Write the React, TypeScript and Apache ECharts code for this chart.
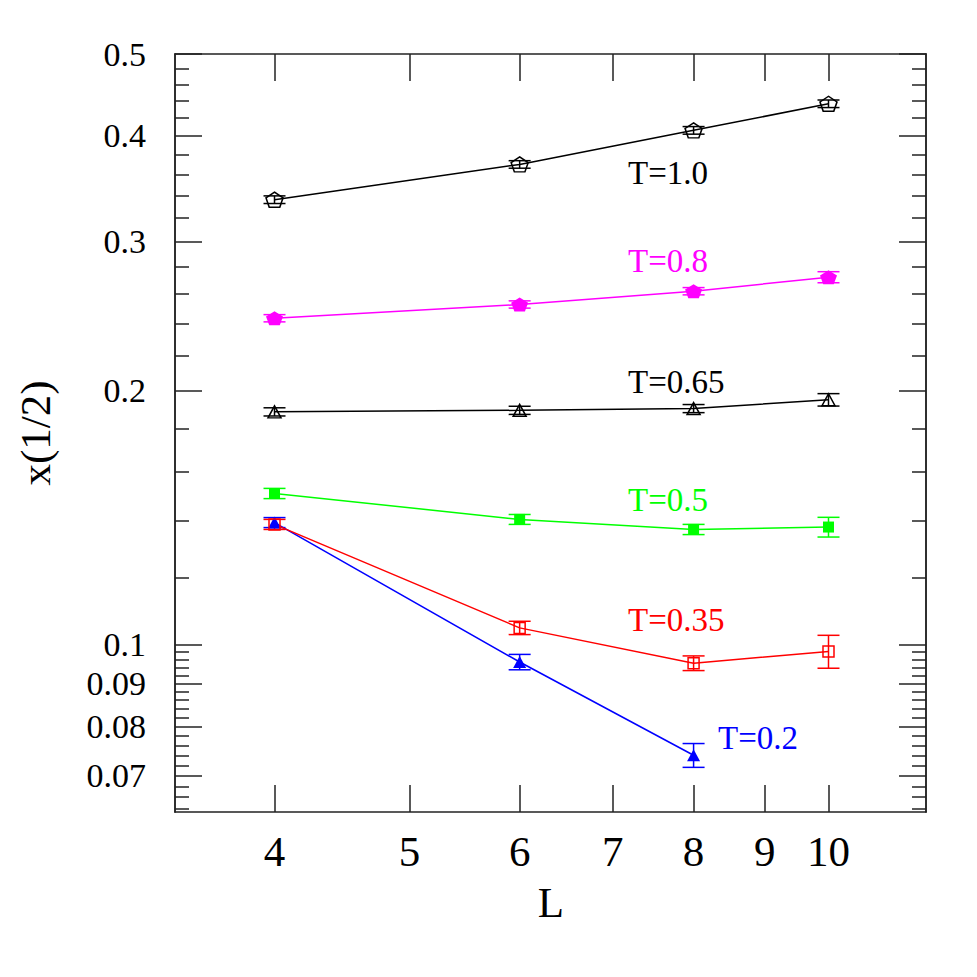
import React, { useEffect, useRef } from "react";
import * as echarts from "echarts";

// ---- data ----
const L_VALUES = [4, 6, 8, 10];
const L_VALUES_T02 = [4, 6, 8];

const Y_T10 = [0.3362, 0.3701, 0.4061, 0.4366];
const ERR_T10 = [0.0035, 0.0038, 0.0042, 0.0045];
const Y_T08 = [0.2434, 0.2527, 0.262, 0.2722];
const ERR_T08 = [0.0024, 0.0025, 0.0026, 0.0041];
const Y_T065 = [0.1886, 0.1894, 0.1903, 0.1949];
const ERR_T065 = [0.0021, 0.0021, 0.0021, 0.0033];
const Y_T05 = [0.151, 0.1407, 0.1369, 0.1378];
const ERR_T05 = [0.0021, 0.0019, 0.0019, 0.0037];
const Y_T035 = [0.1388, 0.1047, 0.0951, 0.0982];
const ERR_T035 = [0.0019, 0.0019, 0.0019, 0.0044];
const Y_T02 = [0.1395, 0.0954, 0.074];
const ERR_T02 = [0.0019, 0.002, 0.0024];

const X_MIN = 3.393;
const X_MAX = 11.75;
const Y_MIN = 0.0634;
const Y_MAX = 0.5;

const X_TICKS = [4, 5, 6, 7, 8, 9, 10];
const X_TICK_LABELS = ["4", "5", "6", "7", "8", "9", "10"];
const Y_MAJOR_TICKS = [0.07, 0.08, 0.09, 0.1, 0.2, 0.3, 0.4, 0.5];
const Y_MAJOR_LABELS = ["0.07", "0.08", "0.09", "0.1", "0.2", "0.3", "0.4", "0.5"];
const Y_MINOR_TICKS = [
  0.064, 0.066, 0.068, 0.072, 0.074, 0.076, 0.078, 0.082, 0.084, 0.086, 0.088,
  0.092, 0.094, 0.096, 0.098, 0.12, 0.14, 0.16, 0.18, 0.22, 0.24, 0.26, 0.28,
  0.32, 0.34, 0.36, 0.38, 0.42, 0.44, 0.46, 0.48,
];

const FONT = "Liberation Serif";
const lg = (v: number) => Math.log10(v);
const PENTAGON = "path://M50,0 L100,36 L81,95 L19,95 L0,36 Z";

type S = {
  name: string;
  L: number[];
  y: number[];
  err: number[];
  color: string;
  symbol: string;
  size: number | number[];
  open: boolean;
};

const SERIES: S[] = [
  { name: "T=1.0", L: L_VALUES, y: Y_T10, err: ERR_T10, color: "#000000", symbol: PENTAGON, size: [17, 15], open: true },
  { name: "T=0.8", L: L_VALUES, y: Y_T08, err: ERR_T08, color: "#ff00ff", symbol: PENTAGON, size: [17, 14], open: false },
  { name: "T=0.65", L: L_VALUES, y: Y_T065, err: ERR_T065, color: "#000000", symbol: "triangle", size: [13, 12], open: true },
  { name: "T=0.5", L: L_VALUES, y: Y_T05, err: ERR_T05, color: "#00ff00", symbol: "rect", size: 11, open: false },
  { name: "T=0.2", L: L_VALUES_T02, y: Y_T02, err: ERR_T02, color: "#0000ff", symbol: "triangle", size: [13, 12], open: false },
  { name: "T=0.35", L: L_VALUES, y: Y_T035, err: ERR_T035, color: "#ff0000", symbol: "rect", size: 11, open: true },
];

const ANNOTATIONS = [
  { text: "T=1.0", x: 628, y: 173, color: "#000000" },
  { text: "T=0.8", x: 628, y: 261, color: "#ff00ff" },
  { text: "T=0.65", x: 628, y: 382, color: "#000000" },
  { text: "T=0.5", x: 628, y: 500, color: "#00ff00" },
  { text: "T=0.35", x: 628, y: 620, color: "#ff0000" },
  { text: "T=0.2", x: 718, y: 738, color: "#0000ff" },
];

const FRAME = "#222222";

function labelFor(list: number[], labels: string[], v: number) {
  for (let i = 0; i < list.length; i++) {
    if (Math.abs(lg(list[i]) - v) < 1e-6) return labels[i];
  }
  return "";
}

export default function App() {
  const ref = useRef<HTMLDivElement>(null);
  useEffect(() => {
    if (!ref.current) return;
    const chart = echarts.init(ref.current, undefined, { renderer: "svg" });

    const xBase = {
      type: "value",
      min: lg(X_MIN),
      max: lg(X_MAX),
      splitLine: { show: false },
      axisLine: { show: true, lineStyle: { color: FRAME, width: 1.5 } },
    };
    const yBase = {
      type: "value",
      min: lg(Y_MIN),
      max: lg(Y_MAX),
      splitLine: { show: false },
      axisLine: { show: true, lineStyle: { color: FRAME, width: 1.5 } },
    };
    const xTickVals = X_TICKS.map(lg);
    const yMajVals = Y_MAJOR_TICKS.map(lg);
    const yMinVals = Y_MINOR_TICKS.map(lg);

    const series: any[] = [];
    SERIES.forEach((s) => {
      series.push({
        type: "line",
        name: s.name,
        xAxisIndex: 0,
        yAxisIndex: 0,
        data: s.L.map((l, i) => [lg(l), lg(s.y[i])]),
        symbol: s.symbol,
        symbolSize: s.size,
        showSymbol: true,
        lineStyle: { color: s.color, width: 1.5 },
        itemStyle: s.open
          ? { color: "rgba(255,255,255,0)", borderColor: s.color, borderWidth: 1.5 }
          : { color: s.color, borderColor: s.color, borderWidth: 0 },
        emphasis: { disabled: true },
        silent: true,
        z: 3,
      });
      series.push({
        type: "custom",
        name: s.name + " err",
        xAxisIndex: 0,
        yAxisIndex: 0,
        data: s.L.map((l, i) => [lg(l), lg(s.y[i] - s.err[i]), lg(s.y[i] + s.err[i])]),
        encode: { x: 0, y: [1, 2] },
        silent: true,
        z: 3,
        renderItem: (params: any, api: any) => {
          const x = api.value(0);
          const lo = api.coord([x, api.value(1)]);
          const hi = api.coord([x, api.value(2)]);
          const hw = 11;
          const st = { stroke: s.color, lineWidth: 1.5 };
          return {
            type: "group",
            children: [
              { type: "line", shape: { x1: lo[0], y1: lo[1], x2: hi[0], y2: hi[1] }, style: st },
              { type: "line", shape: { x1: lo[0] - hw, y1: lo[1], x2: lo[0] + hw, y2: lo[1] }, style: st },
              { type: "line", shape: { x1: hi[0] - hw, y1: hi[1], x2: hi[0] + hw, y2: hi[1] }, style: st },
            ],
          };
        },
      });
    });

    const option: any = {
      animation: false,
      backgroundColor: "#ffffff",
      grid: { left: 175, right: 51, top: 54, bottom: 165, containLabel: false },
      xAxis: [
        {
          ...xBase,
          position: "bottom",
          axisTick: { show: true, inside: true, length: 27, customValues: xTickVals, lineStyle: { color: FRAME, width: 1.5 } },
          axisLabel: {
            show: true,
            customValues: xTickVals,
            margin: 18,
            fontFamily: FONT,
            fontSize: 43,
            color: "#000",
            formatter: (v: number) => labelFor(X_TICKS, X_TICK_LABELS, v),
          },
        },
        {
          ...xBase,
          position: "top",
          axisTick: { show: true, inside: true, length: 27, customValues: xTickVals, lineStyle: { color: FRAME, width: 1.5 } },
          axisLabel: { show: false },
        },
      ],
      yAxis: [
        {
          ...yBase,
          position: "left",
          axisTick: { show: true, inside: true, length: 27, customValues: yMajVals, lineStyle: { color: FRAME, width: 1.5 } },
          axisLabel: {
            show: true,
            customValues: yMajVals,
            margin: 29,
            fontFamily: FONT,
            fontSize: 34,
            lineHeight: 30,
            color: "#000",
            formatter: (v: number) => labelFor(Y_MAJOR_TICKS, Y_MAJOR_LABELS, v),
          },
        },
        {
          ...yBase,
          position: "left",
          axisTick: { show: true, inside: true, length: 14, customValues: yMinVals, lineStyle: { color: FRAME, width: 1.5 } },
          axisLabel: { show: false },
        },
        {
          ...yBase,
          position: "right",
          axisTick: { show: true, inside: true, length: 27, customValues: yMajVals, lineStyle: { color: FRAME, width: 1.5 } },
          axisLabel: { show: false },
        },
        {
          ...yBase,
          position: "right",
          axisTick: { show: true, inside: true, length: 14, customValues: yMinVals, lineStyle: { color: FRAME, width: 1.5 } },
          axisLabel: { show: false },
        },
      ],
      series,
      graphic: [
        ...ANNOTATIONS.map((a) => ({
          type: "text",
          x: a.x,
          y: a.y,
          silent: true,
          style: {
            text: a.text,
            fill: a.color,
            font: `33px "${FONT}"`,
            textAlign: "left",
            textVerticalAlign: "middle",
          },
        })),
        {
          type: "text",
          x: 551,
          y: 902,
          silent: true,
          style: { text: "L", fill: "#000", font: `43px "${FONT}"`, textAlign: "center", textVerticalAlign: "middle" },
        },
        {
          type: "text",
          x: 35,
          y: 433,
          rotation: Math.PI / 2,
          silent: true,
          style: { text: "x(1/2)", fill: "#000", font: `43px "${FONT}"`, textAlign: "center", textVerticalAlign: "middle" },
        },
      ],
    };
    chart.setOption(option);
    return () => chart.dispose();
  }, []);

  return (
    <div
      ref={ref}
      style={{ position: "fixed", left: 0, top: 0, width: 977, height: 977, background: "#fff" }}
    />
  );
}
